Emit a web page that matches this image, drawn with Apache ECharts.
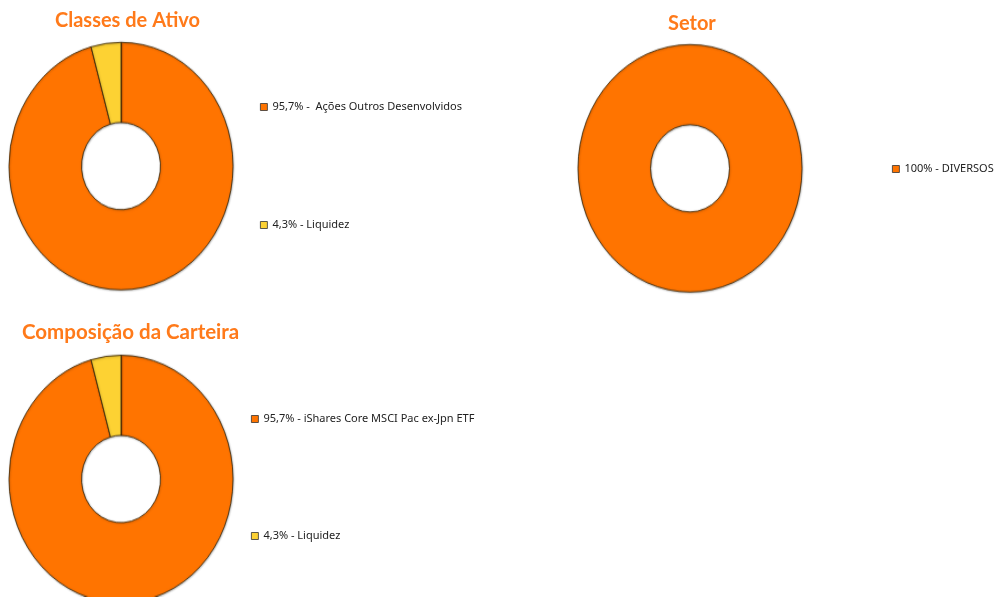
<!DOCTYPE html>
<html>
<head>
<meta charset="utf-8">
<script src="https://cdn.jsdelivr.net/npm/echarts@6/dist/echarts.min.js"></script>
<style>
  html, body { margin: 0; padding: 0; background: #fff; }
  #wrap { position: relative; width: 995px; height: 597px; overflow: hidden; }
  /* donuts are drawn slightly taller than wide */
  #donuts { position: absolute; left: 0; top: 0; width: 995px; height: 540.3px;
            transform: scaleY(1.105); transform-origin: 0 0; }
  #labels { position: absolute; left: 0; top: 0; width: 995px; height: 597px; pointer-events: none; }
</style>
</head>
<body>
<div id="wrap">
  <div id="donuts"></div>
  <div id="labels"></div>
</div>
<script>
// Allocation data
const classesNames = [' Ações Outros Desenvolvidos', 'Liquidez'];
const classesValues = [95.7, 4.3];

const setorNames = ['DIVERSOS'];
const setorValues = [100];

const carteiraNames = ['iShares Core MSCI Pac ex-Jpn ETF', 'Liquidez'];
const carteiraValues = [95.7, 4.3];

const titles = ['Classes de Ativo', 'Setor', 'Composição da Carteira'];

const ORANGE = '#ff7400';
const YELLOW = '#fdd233';
const colorOf = { 'Liquidez': YELLOW };

function toData(names, values) {
  return names.map((n, i) => ({
    name: n, value: values[i],
    itemStyle: { color: colorOf[n] || ORANGE }
  }));
}

function fmtPct(v) { return String(v).replace('.', ',') + '%'; }

const sliceStyle = {
  borderColor: '#3d2a0a', borderWidth: 0.8,
  shadowBlur: 2, shadowColor: 'rgba(0,0,0,0.35)', shadowOffsetX: 0.5, shadowOffsetY: 0.5
};

function donut(names, values, center) {
  return {
    type: 'pie', radius: [39.5, 112], center: center,
    startAngle: 90, clockwise: true, silent: true,
    label: { show: false }, labelLine: { show: false },
    itemStyle: sliceStyle,
    data: toData(names, values)
  };
}

const donutChart = echarts.init(document.getElementById('donuts'), null, { renderer: 'canvas' });
donutChart.setOption({
  animation: false,
  series: [
    donut(classesNames, classesValues, [121, 150.3]),
    donut(setorNames, setorValues, [690, 152.3]),
    donut(carteiraNames, carteiraValues, [121, 433.5])
  ]
});

// Titles and legends, drawn undistorted on top
const lookup = {};
[[classesNames, classesValues], [setorNames, setorValues], [carteiraNames, carteiraValues]]
  .forEach(([ns, vs]) => ns.forEach((n, i) => { lookup[n] = vs[i]; }));

function legendFmt(name) {
  return fmtPct(lookup[name]) + ' - ' + name;
}

function titleStyle(size) {
  return { color: '#ff7a1a', fontFamily: 'Lato', fontWeight: 'bold', fontSize: size };
}
const legendText = { color: '#222', fontFamily: 'Noto Sans', fontSize: 11, lineHeight: 14 };

function legend(names, left, top, gap) {
  return {
    orient: 'vertical', left: left, top: top, itemGap: gap, padding: 0,
    itemWidth: 7, itemHeight: 7, icon: 'rect', selectedMode: false,
    itemStyle: { borderColor: '#333', borderWidth: 0.8, shadowBlur: 0 },
    textStyle: legendText, formatter: legendFmt, data: names
  };
}

function hidden(names, values) {
  return {
    type: 'pie', radius: 5, center: [-200, -200], silent: true,
    label: { show: false }, labelLine: { show: false },
    data: toData(names, values)
  };
}

const labelChart = echarts.init(document.getElementById('labels'), null, { renderer: 'canvas' });
labelChart.setOption({
  animation: false,
  title: [
    { text: titles[0], left: 55, top: 11, padding: 0, textStyle: titleStyle(20) },
    { text: titles[1], left: 668, top: 14, padding: 0, textStyle: titleStyle(20) },
    { text: titles[2], left: 22, top: 322, padding: 0, textStyle: titleStyle(20.5) }
  ],
  legend: [
    legend(classesNames, 260, 100, 104),
    legend(setorNames, 892, 162, 104),
    legend(carteiraNames, 251, 412, 103)
  ],
  series: [
    hidden(classesNames, classesValues),
    hidden(setorNames, setorValues),
    hidden(carteiraNames, carteiraValues)
  ]
});
</script>
</body>
</html>
